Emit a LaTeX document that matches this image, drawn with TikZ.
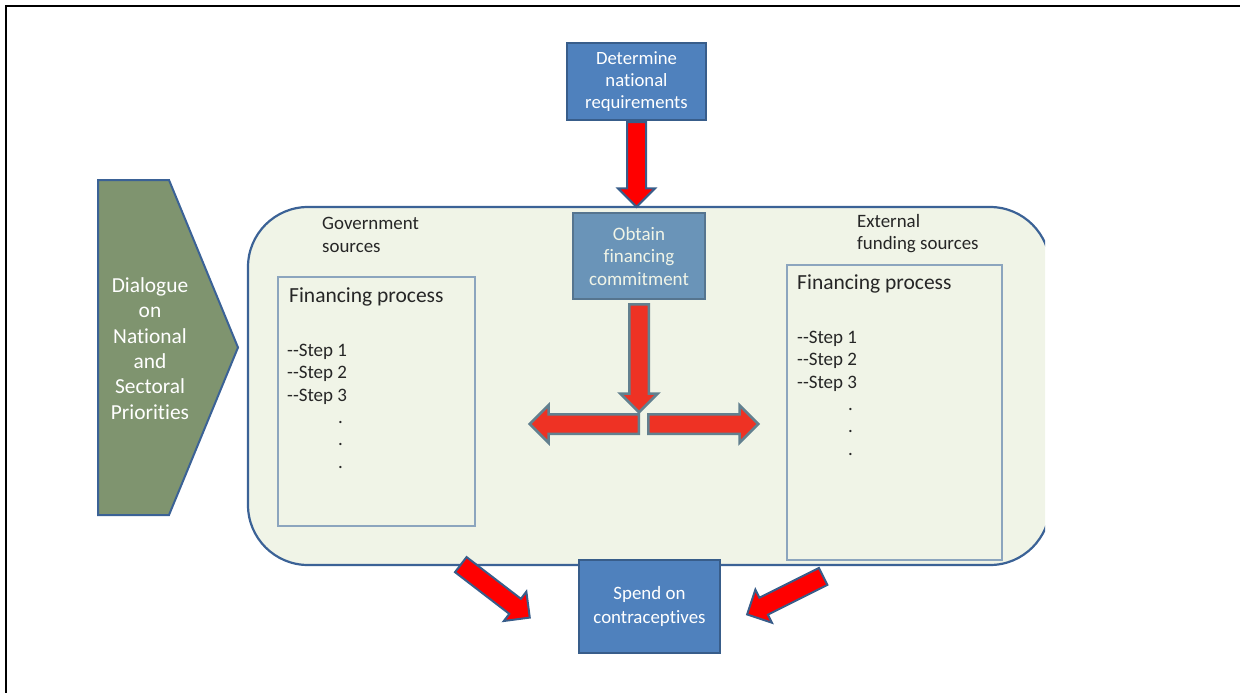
\documentclass[tikz,border=0pt]{standalone}
\usepackage{fontspec}
\setmainfont{Carlito}[Ligatures={TeX,NoCommon}]
\usetikzlibrary{shapes.arrows,calc}

\definecolor{boxblue}{HTML}{4F81BD}
\definecolor{boxedge}{HTML}{385D8A}
\definecolor{steelblue}{HTML}{6A94B8}
\definecolor{steeledge}{HTML}{56758F}
\definecolor{poolfill}{HTML}{F0F4E7}
\definecolor{pooledge}{HTML}{3B6296}
\definecolor{procedge}{HTML}{8CA5BE}
\definecolor{olive}{HTML}{7F946F}
\definecolor{arrowred}{HTML}{FF0000}
\definecolor{splitred}{HTML}{EE3224}
\definecolor{splitedge}{HTML}{62808F}
\definecolor{inktext}{HTML}{262626}

% block arrow from tail to tip
\newcommand\bigarrow[3][]{%
  \path let \p1=($(#3)-(#2)$), \n1={veclen(\x1,\y1)}, \n2={atan2(\y1,\x1)} in
    node[blockarrow,#1,anchor=tail,rotate=\n2,minimum height=\n1] at (#2) {};}

\begin{document}
\begin{tikzpicture}[x=1pt,y=-1pt,
  bluebox/.style={draw=boxedge,fill=boxblue,line width=2pt,text=white,align=center,inner sep=0pt},
  pool/.style={draw=pooledge,fill=poolfill,line width=2.2pt,rounded corners=60pt,inner sep=0pt,
    minimum width=802pt,minimum height=358pt},
  procbox/.style={draw=procedge,line width=1.2pt,inner sep=0pt},
  ink/.style={text=inktext,inner sep=0pt,align=left},
  blockarrow/.style={single arrow,draw=boxedge,fill=arrowred,line width=2pt,inner xsep=0pt,
    inner ysep=8.5pt,single arrow head extend=9pt,single arrow tip angle=90},
  splitarrow/.style={fill=splitred,draw=splitedge,line width=2.5pt}]
\useasboundingbox (0,0) rectangle (1240,693);
\draw[line width=2pt] (6,693) -- (6,6) -- (1240,6);

% dialogue chevron
\draw[fill=olive,draw=pooledge,line width=2pt] (98,180) -- (169,180) -- (238,347.5)
  -- (169,515) -- (98,515) -- cycle;
\node[text=white,align=center,inner sep=0pt,font=\fontsize{21.4}{25.4}\selectfont] (dialogue)
  at (150,348.5) {Dialogue\\on\\National\\and\\Sectoral\\Priorities};

% financing pool
\begin{scope}
\clip (0,0) rectangle (1045,693);
\node[pool] (pool) at (649,386) {};
\end{scope}
\node[ink,anchor=west,font=\fontsize{18.9}{22.5}\selectfont] (gov) at (322,235) {Government\\sources};
\node[ink,anchor=west,font=\fontsize{18.9}{22.5}\selectfont] (ext) at (857,233.5) {External\\funding sources};

\node[procbox,minimum width=197pt,minimum height=249pt] (govbox) at (376.5,401.5) {};
\node[procbox,minimum width=215pt,minimum height=295pt] (extbox) at (894.5,412.5) {};
\node[ink,anchor=west,font=\fontsize{21.5}{26}\selectfont] (govproc) at (289,297) {Financing process};
\node[ink,anchor=west,font=\fontsize{21.5}{26}\selectfont] (extproc) at (797,284) {Financing process};
\node[ink,anchor=north west,font=\fontsize{19}{22.3}\selectfont] (govsteps) at (287,344)
  {-{}-Step 1\\-{}-Step 2\\-{}-Step 3\\\hspace*{51pt}.\\\hspace*{51pt}.\\\hspace*{51pt}.};
\node[ink,anchor=north west,font=\fontsize{19}{22.3}\selectfont] (extsteps) at (797,331)
  {-{}-Step 1\\-{}-Step 2\\-{}-Step 3\\\hspace*{51pt}.\\\hspace*{51pt}.\\\hspace*{51pt}.};

\node[bluebox,fill=steelblue,draw=steeledge,text=poolfill,minimum width=132pt,minimum height=86pt,
  font=\fontsize{19}{22.5}\selectfont] (obtain) at (639,256) {Obtain\\financing\\commitment};
\node[bluebox,minimum width=139pt,minimum height=77pt,font=\fontsize{18.7}{22}\selectfont] (det)
  at (636.5,81.5) {Determine\\national\\requirements};

% arrows
\coordinate (dettip) at (det.south |- pool.north);
\coordinate (obtainout) at ([yshift=-3pt]obtain.south);
\coordinate (split) at (639,411);
\coordinate (hubL) at (640,424);
\coordinate (hubR) at (647,424);
\coordinate (westtip) at (531,424);
\coordinate (easttip) at (757,424);
\coordinate (govout) at (460,564);
\coordinate (govin) at (529,617);
\coordinate (extout) at (824,576);
\coordinate (extin) at (748,614);
\bigarrow{det.south}{dettip}
\bigarrow[splitarrow]{obtainout}{split}
\bigarrow[splitarrow]{hubL}{westtip}
\bigarrow[splitarrow]{hubR}{easttip}
\bigarrow{govout}{govin}
\bigarrow{extout}{extin}

\node[bluebox,minimum width=141pt,minimum height=93pt,font=\fontsize{18.9}{24}\selectfont] (spend)
  at (649.5,606.5) {Spend on\\contraceptives};
\end{tikzpicture}
\end{document}
